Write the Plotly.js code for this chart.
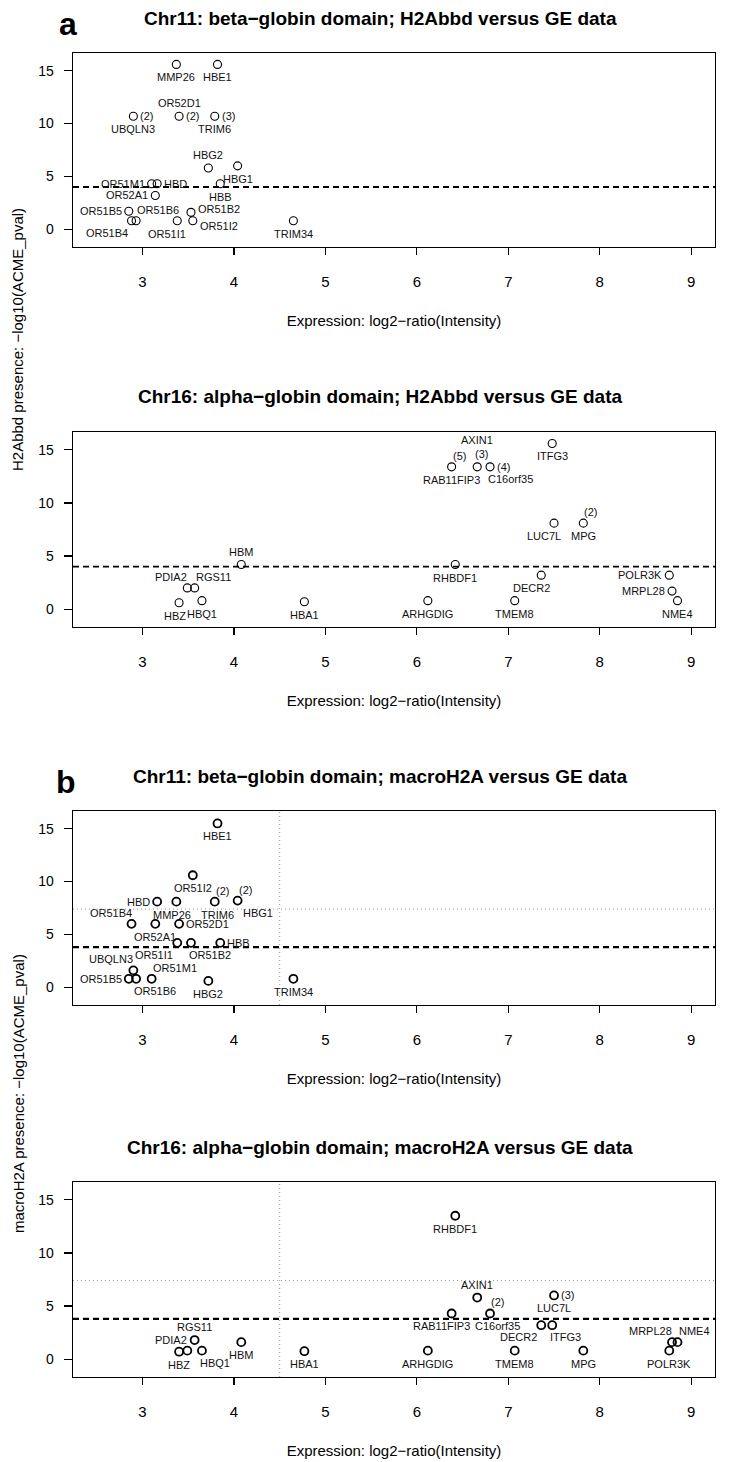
<!DOCTYPE html>
<html><head><meta charset="utf-8">
<script src="https://cdn.plot.ly/plotly-3.0.1.min.js"></script>
<style>html,body{margin:0;padding:0;background:#fff}</style>
</head><body><div id="chart" style="width:732px;height:1462px"></div>
<script>
// ---------- DATA ----------
// Chr11 (beta-globin domain) genes and expression, log2-ratio(Intensity)
const genes11 = ["MMP26","HBE1","UBQLN3","OR52D1","TRIM6","HBG2","HBG1","OR51M1","HBD","HBB","OR52A1","OR51B5","OR51B6","OR51B4","OR51I1","OR51B2","OR51I2","TRIM34"];
const expr11  = [3.37,3.82,2.90,3.40,3.79,3.72,4.04,3.10,3.16,3.85,3.14,2.85,2.93,2.88,3.38,3.53,3.55,4.65];
// -log10(ACME_pval)
const h2abbd11 = [15.6,15.6,10.7,10.7,10.7,5.8,6.0,4.3,4.3,4.3,3.2,1.7,0.8,0.8,0.8,1.6,0.8,0.8];
const macro11  = [8.1,15.5,1.6,6.0,8.1,0.6,8.2,0.8,8.1,4.2,6.0,0.8,0.8,6.0,4.2,4.2,10.6,0.8];
const h2abbd11Count = ["","","(2)","(2)","(3)","","","","","","","","","","","","",""];
const macro11Count  = ["","","","","(2)","","(2)","","","","","","","","","","",""];

// Chr16 (alpha-globin domain)
const genes16 = ["AXIN1","ITFG3","RAB11FIP3","C16orf35","LUC7L","MPG","HBM","PDIA2","RGS11","RHBDF1","DECR2","POLR3K","MRPL28","NME4","HBZ","HBQ1","HBA1","ARHGDIG","TMEM8"];
const expr16  = [6.66,7.48,6.38,6.80,7.50,7.82,4.08,3.49,3.57,6.42,7.36,8.76,8.79,8.85,3.40,3.65,4.77,6.12,7.07];
const h2abbd16 = [13.4,15.6,13.4,13.4,8.1,8.1,4.2,2.0,2.0,4.2,3.2,3.2,1.7,0.8,0.6,0.8,0.7,0.8,0.8];
const macro16  = [5.8,3.2,4.3,4.3,6.0,0.8,1.6,0.8,1.8,13.5,3.2,0.8,1.6,1.6,0.7,0.8,0.75,0.8,0.8];
const h2abbd16Count = ["(3)","","(5)","(4)","","(2)","","","","","","","","","","","","",""];
const macro16Count  = ["","","","(2)","(3)","","","","","","","","","","","","","",""];

const xTicks = [3,4,5,6,7,8,9];
const yTicks = [0,5,10,15];
const thrH2Abbd = 4.0, thrMacro = 3.8;
const dotX = 4.5, dotY = 7.4;

const titles = ["Chr11: beta\u2212globin domain; H2Abbd versus GE data",
                "Chr16: alpha\u2212globin domain; H2Abbd versus GE data",
                "Chr11: beta\u2212globin domain; macroH2A versus GE data",
                "Chr16: alpha\u2212globin domain; macroH2A versus GE data"];
const xTitle = "Expression: log2\u2212ratio(Intensity)";
const yTitleA = "H2Abbd presence: \u2212log10(ACME_pval)";
const yTitleB = "macroH2A presence: \u2212log10(ACME_pval)";

// ---------- STYLE (label placement codes) ----------
const posA1 = ["b","b","b","t","b","t","b","l","r","b","l","l","tr","bl","b-","rU","rD","b"];
const cposA1= ["r","r","r","r","r","r","r","r","r","r","r","r","r","r","r","r","r","r"];
const posB1 = ["b<","b","tl","r","b>","b","br+","tr","l","r","b","l","br","tl","bl","br","b","b"];
const cposB1= ["tr","tr","tr","tr","tr","tr","tr","tr","tr","tr","tr","tr","tr","tr","tr","tr","tr","tr"];
const posA2 = ["tt","b","b","br","b-","b","t","tl","tr","b","b-","l","l","b","b<","b","b","b","b"];
const cposA2= ["tc","tr","tr","r","tr","tr","tr","tr","tr","tr","tr","tr","tr","tr","tr","tr","tr","tr","tr"];
const posB2 = ["t","br","b-","b+","b","b","b","tl","t","b","bl","b","tl","tr","b","br","b","b","b"];
const cposB2= ["tr","tr","tr","tr","r","tr","tr","tr","tr","tr","tr","tr","tr","tr","tr","tr","tr","tr","tr"];

const P = {
  b:['center','top',0,-5], 'b-':['center','top',-10,-5], 'b+':['center','top',7,-5],
  'b<':['center','top',-4,-5], 'b>':['center','top',3,-5],
  t:['center','bottom',0,5], tt:['center','bottom',0,19],
  l:['right','middle',-5,0], r:['left','middle',5,0],
  rU:['left','middle',5,3], rD:['left','middle',5,-5],
  bl:['right','top',-2,-4], br:['left','top',-4,-4], 'br+':['left','top',3,-4],
  tl:['right','bottom',2,3], tr:['left','bottom',-1,3], tc:['center','bottom',4,5]
};

const W=732, H=1462, L=73, R=715;
const boxes = [[53,247],[432,627],[811,1005],[1182,1377]];
const FONT = "Liberation Sans, Arial, sans-serif";

const layout = {width:W, height:H, margin:{l:0,r:0,t:0,b:0}, showlegend:false,
  paper_bgcolor:'#fff', plot_bgcolor:'#fff', font:{family:FONT, color:'#000'},
  annotations:[], shapes:[]};
const data = [];

const panels = [
  {xs:expr11, ys:h2abbd11, names:genes11, cnt:h2abbd11Count, pos:posA1, cpos:cposA1, thr:thrH2Abbd, dots:false, lw:1.1},
  {xs:expr16, ys:h2abbd16, names:genes16, cnt:h2abbd16Count, pos:posA2, cpos:cposA2, thr:thrH2Abbd, dots:false, lw:1.1},
  {xs:expr11, ys:macro11, names:genes11, cnt:macro11Count, pos:posB1, cpos:cposB1, thr:thrMacro, dots:true, lw:1.8},
  {xs:expr16, ys:macro16, names:genes16, cnt:macro16Count, pos:posB2, cpos:cposB2, thr:thrMacro, dots:true, lw:1.8}
];

panels.forEach((p,i)=>{
  const n = i+1, sx = n===1?'':n, xr='x'+sx, yr='y'+sx;
  const [top,bot] = boxes[i];
  layout['xaxis'+sx] = {domain:[L/W,R/W], anchor:yr, range:[2.24,9.26], tickmode:'array', tickvals:xTicks,
    ticks:'outside', ticklen:7, tickwidth:1.2, tickcolor:'#000', showline:true, mirror:true,
    linecolor:'#000', linewidth:1.4, showgrid:false, zeroline:false,
    tickfont:{size:15, family:FONT}, ticklabelstandoff:14,
    title:{text:xTitle, font:{size:15, family:FONT}, standoff:26}};
  layout['yaxis'+sx] = {domain:[1-bot/H, 1-top/H], anchor:xr, range:[-1.68,16.68], tickmode:'array', tickvals:yTicks,
    ticks:'outside', ticklen:8, tickwidth:1.2, tickcolor:'#000', showline:true, mirror:true,
    linecolor:'#000', linewidth:1.4, showgrid:false, zeroline:false,
    tickfont:{size:14, family:FONT}, ticklabelstandoff:7};
  data.push({type:'scatter', mode:'markers', x:p.xs, y:p.ys, xaxis:xr, yaxis:yr, hoverinfo:'text', text:p.names,
    marker:{symbol:'circle-open', size:8, color:'#000', line:{width:p.lw, color:'#000'}}});
  // labels
  p.names.forEach((g,k)=>{
    const q = P[p.pos[k]];
    layout.annotations.push({xref:xr, yref:yr, x:p.xs[k], y:p.ys[k], text:g, showarrow:false,
      xanchor:q[0], yanchor:q[1], xshift:q[2], yshift:q[3], font:{size:11, family:FONT, color:'#111'}});
    if (p.cnt[k]) {
      const c = P[p.cpos[k]];
      layout.annotations.push({xref:xr, yref:yr, x:p.xs[k], y:p.ys[k], text:p.cnt[k], showarrow:false,
        xanchor:c[0], yanchor:c[1], xshift:c[2], yshift:c[3], font:{size:11, family:FONT, color:'#111'}});
    }
  });
  // threshold
  layout.shapes.push({type:'line', xref:xr+' domain', x0:0, x1:1, yref:yr, y0:p.thr, y1:p.thr,
    line:{color:'#000', width:p.dots?2.2:1.8, dash:'6px,4px'}});
  if (p.dots) {
    layout.shapes.push({type:'line', xref:xr, x0:dotX, x1:dotX, yref:yr+' domain', y0:0, y1:1,
      line:{color:'#999', width:1, dash:'1px,3px'}});
    layout.shapes.push({type:'line', xref:xr+' domain', x0:0, x1:1, yref:yr, y0:dotY, y1:dotY,
      line:{color:'#999', width:1, dash:'1px,3px'}});
  }
  // panel title
  layout.annotations.push({xref:'paper', yref:'paper', x:380/W, y:1-(top-35)/H, text:'<b>'+titles[i]+'</b>',
    showarrow:false, xanchor:'center', yanchor:'middle', font:{size:19, family:FONT}});
});

// panel letters
layout.annotations.push({xref:'paper', yref:'paper', x:68/W, y:1-24/H, text:'<b>a</b>', showarrow:false,
  xanchor:'center', yanchor:'middle', font:{size:32, family:FONT}});
layout.annotations.push({xref:'paper', yref:'paper', x:66/W, y:1-782/H, text:'<b>b</b>', showarrow:false,
  xanchor:'center', yanchor:'middle', font:{size:32, family:FONT}});
// shared y titles
layout.annotations.push({xref:'paper', yref:'paper', x:18/W, y:1-340/H, text:yTitleA, textangle:-90, showarrow:false,
  xanchor:'center', yanchor:'middle', font:{size:15, family:FONT}});
layout.annotations.push({xref:'paper', yref:'paper', x:18/W, y:1-1094/H, text:yTitleB, textangle:-90, showarrow:false,
  xanchor:'center', yanchor:'middle', font:{size:15, family:FONT}});

Plotly.newPlot('chart', data, layout, {staticPlot:true, displayModeBar:false});
</script></body></html>
